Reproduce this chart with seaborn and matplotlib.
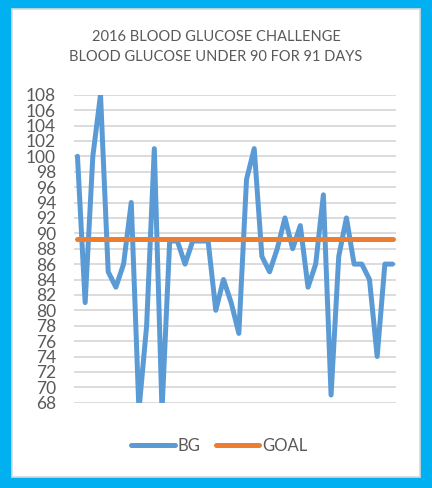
import pandas as pd
import numpy as np
import matplotlib.pyplot as plt
import matplotlib.patches as mpatches
import seaborn as sns

# readings copied off the chart (days 1..42), values below 68 are cut by the axis
bg = [100, 81, 100, 108, 85, 83, 86, 94, 67, 78, 101, 67, 89, 89, 86, 89, 89, 89,
      80, 84, 81, 77, 97, 101, 87, 85, 88, 92, 88, 91, 83, 86, 95, 69, 87, 92,
      86, 86, 84, 74, 86, 86]
goal = [89.2] * len(bg)
days = list(range(1, len(bg) + 1))
title = '2016 BLOOD GLUCOSE CHALLENGE\nBLOOD GLUCOSE UNDER 90 FOR 91 DAYS'
yticks = list(range(68, 110, 2))

df = pd.DataFrame({'Day': days, 'BG': bg, 'GOAL': goal})

sns.set_style('white')
plt.rcParams['font.family'] = ['Lato', 'DejaVu Sans']
txt = '#595959'

fig = plt.figure(figsize=(4.32, 4.88), dpi=100, facecolor='#00B0F0')
# white chart area with thin grey edge
fig.patches.append(mpatches.Rectangle((12 / 432, 11 / 488), 408 / 432, 468 / 488,
                                      transform=fig.transFigure, facecolor='white',
                                      edgecolor='#D9D9D9', linewidth=1.2, zorder=-5))

ax = fig.add_axes([74 / 432, 85.3 / 488, 322 / 432, 308 / 488])
ax.set_facecolor('none')
sns.lineplot(data=df, x='Day', y='BG', ax=ax, color='#5B9BD5', linewidth=3.6,
             label='BG', solid_capstyle='round', solid_joinstyle='round')
sns.lineplot(data=df, x='Day', y='GOAL', ax=ax, color='#ED7D31', linewidth=3.6,
             label='GOAL', solid_capstyle='round')

ax.set_ylim(68, 108)
ax.set_xlim(0.55, len(bg) + 0.45)
ax.set_yticks(yticks)
ax.set_yticklabels([str(v) for v in yticks], fontsize=12.5, color=txt)
ax.set_xticks([])
ax.set_xlabel('')
ax.set_ylabel('')
ax.tick_params(axis='y', length=0, pad=13)
for y in yticks:
    ax.axhline(y, color='#D9D9D9', linewidth=1.3, zorder=0)
for s in ax.spines.values():
    s.set_visible(False)

fig.text(0.5, 1 - 47 / 488, title, ha='center', va='center', fontsize=10.5,
         color=txt, linespacing=1.6)

leg = ax.legend(loc='center', bbox_to_anchor=(0.452, -0.14), ncol=2, frameon=False,
                fontsize=12, handlelength=2.6, columnspacing=0.9, handletextpad=0.2)
for t in leg.get_texts():
    t.set_color(txt)

fig.savefig('out.png', dpi=100, facecolor=fig.get_facecolor())
